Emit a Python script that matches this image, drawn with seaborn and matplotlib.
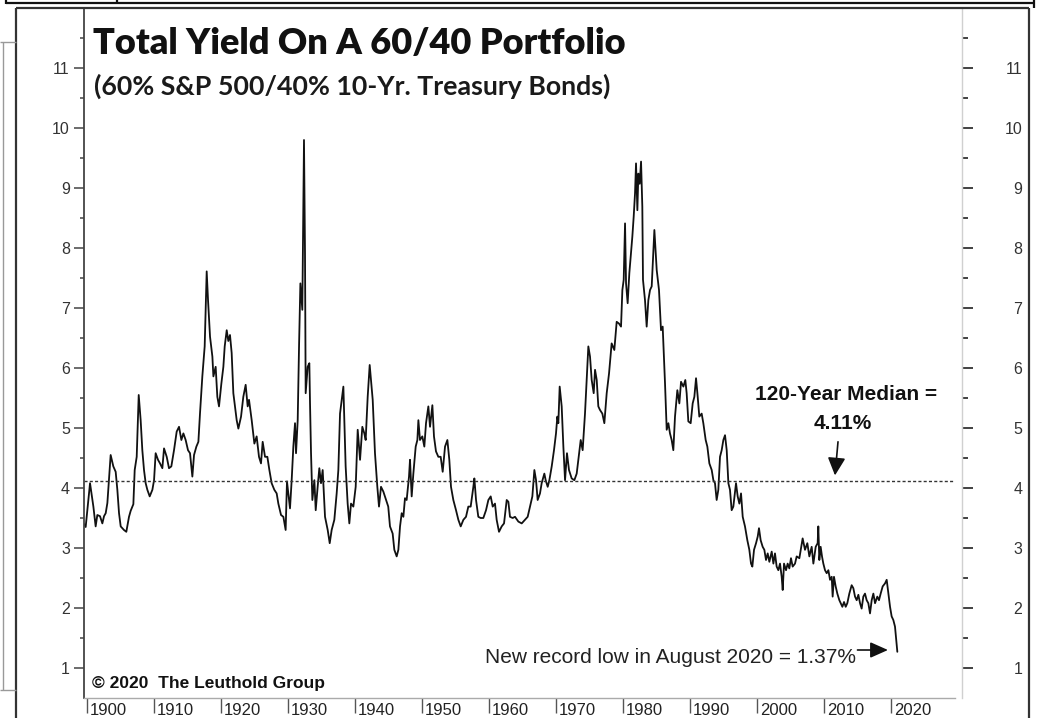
import matplotlib
matplotlib.use("Agg")
import matplotlib.pyplot as plt
from matplotlib.lines import Line2D
from matplotlib import transforms
import numpy as np
import pandas as pd
import seaborn as sns

# ---------------- data ----------------
years_1900s = [1899.55, 1899.80, 1900.45, 1900.95, 1901.29, 1901.54, 1901.94, 1902.29, 1902.54, 1902.79,
               1903.04, 1903.53, 1903.93, 1904.28, 1904.53, 1904.78, 1905.03, 1905.52, 1905.87, 1906.27,
               1906.52, 1906.92, 1907.12, 1907.42, 1907.72, 1908.01, 1908.26, 1908.51, 1908.76, 1909.01,
               1909.36, 1909.76, 1910.01, 1910.25, 1910.60, 1910.90, 1911.25, 1911.50, 1911.90, 1912.24,
               1912.59, 1912.99, 1913.39, 1913.74, 1914.09, 1914.39, 1914.73, 1915.08, 1915.38, 1915.73,
               1915.98, 1916.33, 1916.63, 1916.87, 1917.22, 1917.57, 1917.87, 1918.07, 1918.37, 1918.72,
               1918.87, 1919.21, 1919.46, 1919.71, 1920.06, 1920.36, 1920.56, 1920.86, 1921.10, 1921.35,
               1921.60, 1921.85]
yield_1900s = [3.40, 3.35, 4.08, 3.69, 3.36, 3.55, 3.53, 3.41, 3.53, 3.58,
               3.75, 4.55, 4.36, 4.27, 3.97, 3.58, 3.36, 3.30, 3.27, 3.52,
               3.62, 3.73, 4.30, 4.52, 5.55, 5.13, 4.63, 4.30, 4.08, 3.97,
               3.86, 3.97, 4.13, 4.58, 4.47, 4.41, 4.33, 4.66, 4.52, 4.33,
               4.36, 4.63, 4.94, 5.02, 4.80, 4.91, 4.80, 4.63, 4.58, 4.19,
               4.55, 4.69, 4.77, 5.24, 5.86, 6.36, 7.61, 7.13, 6.52, 6.19,
               5.86, 6.02, 5.52, 5.36, 5.74, 6.02, 6.36, 6.63, 6.45, 6.55,
               6.25, 5.58]

years_1920s = [1922.35, 1922.60, 1923.00, 1923.34, 1923.69, 1923.99, 1924.19, 1924.59, 1924.99, 1925.33,
               1925.68, 1925.98, 1926.23, 1926.58, 1926.93, 1927.23, 1927.57, 1927.97, 1928.32, 1928.57,
               1928.97, 1929.32, 1929.66, 1929.86, 1930.06, 1930.31, 1930.56, 1930.81, 1931.06, 1931.21,
               1931.46, 1931.66, 1931.86, 1932.15, 1932.40, 1932.55, 1932.65, 1932.95, 1933.20, 1933.30,
               1933.45, 1933.65, 1933.95, 1934.15, 1934.44, 1934.69, 1934.94, 1935.19, 1935.54, 1935.94,
               1936.24, 1936.53, 1936.93, 1937.28, 1937.53, 1937.78, 1938.03, 1938.28, 1938.62, 1938.92,
               1939.17, 1939.42, 1939.77, 1940.12, 1940.42, 1940.77, 1941.11, 1941.41, 1941.61, 1941.91,
               1942.21]
yield_1920s = [5.13, 4.99, 5.19, 5.52, 5.72, 5.36, 5.47, 5.13, 4.74, 4.86,
               4.52, 4.41, 4.77, 4.52, 4.52, 4.30, 4.08, 3.97, 3.91, 3.74,
               3.55, 3.52, 3.30, 4.11, 3.91, 3.66, 4.13, 4.69, 5.08, 4.58,
               5.13, 6.36, 7.41, 6.97, 9.80, 7.91, 5.58, 6.02, 6.08, 5.41,
               4.58, 3.80, 4.13, 3.63, 4.02, 4.33, 4.08, 4.30, 3.52, 3.30,
               3.08, 3.30, 3.47, 3.91, 4.30, 5.24, 5.47, 5.69, 4.36, 3.74,
               3.41, 3.74, 3.69, 4.02, 4.97, 4.47, 5.02, 4.91, 4.80, 5.52,
               6.05]

years_1940s = [1942.66, 1943.00, 1943.35, 1943.60, 1943.90, 1944.25, 1944.65, 1944.98, 1945.24, 1945.64,
               1945.89, 1946.24, 1946.49, 1946.74, 1946.99, 1947.24, 1947.48, 1947.73, 1948.08, 1948.23,
               1948.48, 1948.73, 1949.08, 1949.33, 1949.48, 1949.72, 1950.07, 1950.37, 1950.62, 1950.97,
               1951.22, 1951.57, 1951.81, 1952.11, 1952.46, 1952.81, 1953.11, 1953.46, 1953.81, 1954.10,
               1954.35, 1954.70, 1955.10, 1955.45, 1955.80, 1956.20, 1956.59, 1956.94, 1957.29, 1957.69,
               1957.84, 1958.09, 1958.43, 1958.78, 1959.18, 1959.58, 1959.93, 1960.28, 1960.58, 1960.92,
               1961.17, 1961.52, 1961.92, 1962.27, 1962.67, 1962.92, 1963.16, 1963.56, 1963.91]
yield_1940s = [5.47, 4.58, 4.02, 3.69, 4.02, 3.94, 3.80, 3.69, 3.36, 3.24,
               2.97, 2.86, 2.97, 3.36, 3.58, 3.52, 3.83, 3.80, 4.19, 4.47,
               3.86, 4.24, 4.69, 4.80, 5.13, 4.80, 4.86, 4.69, 5.08, 5.36,
               5.02, 5.38, 4.86, 4.61, 4.52, 4.52, 4.27, 4.69, 4.80, 4.47,
               4.02, 3.80, 3.63, 3.47, 3.36, 3.47, 3.52, 3.69, 3.69, 4.02,
               4.16, 3.80, 3.52, 3.50, 3.50, 3.63, 3.80, 3.86, 3.69, 3.74,
               3.47, 3.27, 3.36, 3.41, 3.80, 3.77, 3.52, 3.50, 3.52]

years_1960s = [1964.41, 1964.91, 1965.40, 1965.80, 1966.15, 1966.50, 1966.80, 1967.05, 1967.29, 1967.64,
               1967.89, 1968.29, 1968.49, 1968.79, 1969.04, 1969.39, 1969.73, 1970.03, 1970.23, 1970.38,
               1970.58, 1970.88, 1971.13, 1971.38, 1971.67, 1971.97, 1972.37, 1972.77, 1973.12, 1973.37,
               1973.72, 1974.01, 1974.36, 1974.61, 1974.86, 1975.11, 1975.36, 1975.66, 1975.86, 1976.11,
               1976.35, 1976.60, 1976.95, 1977.25, 1977.60, 1977.95, 1978.34, 1978.74, 1979.09, 1979.44,
               1979.74, 1979.94, 1980.14, 1980.34, 1980.49, 1980.73, 1980.98, 1981.23, 1981.43, 1981.63,
               1981.83, 1981.98, 1982.18, 1982.33, 1982.53, 1982.73, 1982.92, 1983.02, 1983.32, 1983.57,
               1983.82, 1984.07, 1984.32, 1984.72, 1985.07, 1985.41, 1985.71, 1985.96, 1986.21]
yield_1960s = [3.44, 3.41, 3.47, 3.52, 3.69, 3.86, 4.30, 4.13, 3.80, 3.91,
               4.08, 4.24, 4.13, 4.02, 4.13, 4.36, 4.63, 4.91, 5.19, 5.08,
               5.69, 5.36, 4.69, 4.13, 4.58, 4.30, 4.16, 4.13, 4.24, 4.47,
               4.80, 4.63, 5.24, 5.80, 6.36, 6.19, 5.80, 5.58, 5.97, 5.80,
               5.36, 5.30, 5.24, 5.08, 5.58, 5.91, 6.41, 6.30, 6.77, 6.74,
               6.69, 7.30, 7.47, 8.41, 7.41, 7.08, 7.58, 7.91, 8.19, 8.52,
               8.91, 9.41, 8.63, 9.24, 9.07, 9.44, 8.69, 7.47, 7.13, 6.69,
               7.13, 7.30, 7.36, 8.30, 7.63, 7.30, 6.63, 6.69, 6.02]

years_1980s = [1986.31, 1986.56, 1986.81, 1987.05, 1987.30, 1987.55, 1987.80, 1988.15, 1988.45, 1988.70,
               1989.05, 1989.34, 1989.54, 1989.79, 1990.14, 1990.44, 1990.69, 1990.94, 1991.19, 1991.43,
               1991.78, 1992.03, 1992.38, 1992.63, 1992.93, 1993.28, 1993.53, 1993.77, 1994.02, 1994.27,
               1994.52, 1994.77, 1995.02, 1995.27, 1995.52, 1995.77, 1996.01, 1996.26, 1996.51, 1996.91,
               1997.16, 1997.41, 1997.66, 1997.91, 1998.25, 1998.60, 1998.90, 1999.15, 1999.35, 1999.60,
               1999.90, 2000.15, 2000.34, 2000.59, 2000.89, 2001.14, 2001.39, 2001.64, 2001.89, 2002.24,
               2002.49, 2002.73, 2002.98, 2003.23, 2003.48, 2003.73, 2003.88, 2004.08, 2004.38, 2004.62,
               2004.87, 2005.12, 2005.37, 2005.72, 2005.97, 2006.37]
yield_1980s = [5.74, 4.97, 5.08, 4.91, 4.80, 4.63, 5.19, 5.63, 5.41, 5.77,
               5.69, 5.80, 5.58, 5.11, 5.08, 5.41, 5.52, 5.83, 5.52, 5.19,
               5.24, 5.08, 4.80, 4.69, 4.41, 4.30, 4.13, 4.08, 3.80, 3.97,
               4.52, 4.63, 4.80, 4.88, 4.63, 4.08, 3.97, 3.63, 3.69, 4.08,
               3.86, 3.74, 3.91, 3.52, 3.36, 3.13, 2.97, 2.74, 2.69, 2.97,
               3.08, 3.19, 3.33, 3.13, 3.02, 2.97, 2.80, 2.91, 2.77, 2.94,
               2.74, 2.91, 2.69, 2.63, 2.74, 2.52, 2.30, 2.74, 2.63, 2.74,
               2.66, 2.83, 2.69, 2.74, 2.86, 2.83]

years_2000s = [2006.86, 2007.21, 2007.56, 2007.86, 2008.21, 2008.46, 2008.81, 2009.10, 2009.20, 2009.35,
               2009.55, 2009.75, 2009.95, 2010.20, 2010.45, 2010.70, 2010.95, 2011.20, 2011.34, 2011.54,
               2011.79, 2012.04, 2012.34, 2012.54, 2012.79, 2013.04, 2013.29, 2013.53, 2013.83, 2014.18,
               2014.43, 2014.68, 2014.93, 2015.18, 2015.43, 2015.67, 2015.92, 2016.17, 2016.42, 2016.67,
               2016.92, 2017.17, 2017.42, 2017.67, 2018.01, 2018.26, 2018.51, 2018.81, 2019.16, 2019.41,
               2019.66, 2019.91, 2020.15, 2020.40, 2020.65, 2021.00]
yield_2000s = [3.16, 2.97, 3.08, 2.86, 3.02, 2.74, 3.02, 3.08, 3.36, 2.80,
               3.02, 2.86, 2.74, 2.63, 2.58, 2.63, 2.47, 2.52, 2.19, 2.52,
               2.36, 2.24, 2.13, 2.08, 2.02, 2.10, 2.02, 2.08, 2.24, 2.38,
               2.33, 2.19, 2.13, 2.22, 2.08, 1.99, 2.19, 2.24, 2.13, 2.08,
               1.91, 2.13, 2.24, 2.08, 2.19, 2.13, 2.24, 2.36, 2.41, 2.47,
               2.24, 2.02, 1.86, 1.80, 1.69, 1.27]

median_value = 4.11
decade_ticks = [1900, 1910, 1920, 1930, 1940, 1950, 1960, 1970, 1980, 1990, 2000, 2010, 2020]
decade_labels = [str(d) for d in decade_ticks]
y_ticks = [1, 2, 3, 4, 5, 6, 7, 8, 9, 10, 11]
y_labels = [str(v) for v in y_ticks]

title_text = "Total Yield On A 60/40 Portfolio"
subtitle_text = "(60% S&P 500/40% 10-Yr. Treasury Bonds)"
median_text = "120-Year Median ="
median_value_text = "4.11%"
record_text = "New record low in August 2020 = 1.37%"
credit_text = "\u00a9 2020  The Leuthold Group"

df = pd.DataFrame({
    "year": years_1900s + years_1920s + years_1940s + years_1960s + years_1980s + years_2000s,
    "yield": yield_1900s + yield_1920s + yield_1940s + yield_1960s + yield_1980s + yield_2000s,
})

# ---------------- figure ----------------
sns.set_theme(style="white")
plt.rcParams["font.family"] = ["Liberation Sans", "DejaVu Sans"]

W, H = 1049, 718
fig = plt.figure(figsize=(W / 100, H / 100), dpi=100)
fig.patch.set_facecolor("white")


def fx(px):
    return px / W


def fy(py):
    return 1 - py / H


L, R, T, B = 84, 955, 8, 698
R2 = 962
X_LEFT, X_RIGHT = 1899.55, 2029.61
Y_LOW, Y_HIGH = 0.5, 12.0

ax = fig.add_axes([fx(L), fy(B), (R - L) / W, (B - T) / H])
ax.set_facecolor("white")

sns.lineplot(data=df, x="year", y="yield", ax=ax, color="#111111", linewidth=1.3,
             estimator=None, sort=False, legend=False)
ax.axhline(median_value, color="#333333", linewidth=1.0, linestyle=(0, (2.2, 1.6)))

ax.set_xlim(X_LEFT, X_RIGHT)
ax.set_ylim(Y_LOW, Y_HIGH)
ax.set_xlabel("")
ax.set_ylabel("")

for s in ["top", "right"]:
    ax.spines[s].set_visible(False)
ax.spines["left"].set_color("#444444")
ax.spines["left"].set_linewidth(1.3)
ax.spines["bottom"].set_color("#aaaaaa")
ax.spines["bottom"].set_linewidth(1.0)

ax.set_yticks(y_ticks)
ax.set_yticklabels(y_labels)
ax.set_yticks(np.arange(1.5, 11.6, 1.0), minor=True)
ax.tick_params(axis="y", which="major", direction="out", length=7.2, width=1.1,
               color="#444444", labelsize=11.5, labelcolor="#333333", pad=3, left=True)
ax.tick_params(axis="y", which="minor", direction="out", length=3, width=1.1,
               color="#444444", left=True)

ax.set_xticks(decade_ticks)
ax.set_xticklabels(decade_labels)
ax.tick_params(axis="x", which="major", direction="out", length=11, width=1.0,
               color="#555555", labelsize=12, labelcolor="#222222", pad=-7.4, bottom=True)
offset = transforms.ScaledTranslation(3 / 100, 0, fig.dpi_scale_trans)
for lab in ax.get_xticklabels():
    lab.set_horizontalalignment("left")
    lab.set_transform(lab.get_transform() + offset)

# right-hand value axis
ax2 = fig.add_axes([fx(L), fy(B), (R2 - L) / W, (B - T) / H])
ax2.patch.set_visible(False)
ax2.set_ylim(Y_LOW, Y_HIGH)
ax2.set_xticks([])
for s in ["top", "left", "bottom"]:
    ax2.spines[s].set_visible(False)
ax2.spines["right"].set_color("#d0d0d0")
ax2.spines["right"].set_linewidth(1.0)
ax2.yaxis.tick_right()
ax2.set_yticks(y_ticks)
ax2.set_yticklabels(y_labels)
ax2.set_yticks(np.arange(1.5, 11.6, 1.0), minor=True)
ax2.tick_params(axis="y", which="major", direction="out", length=8, width=1.3,
                color="#333333", labelsize=11.5, labelcolor="#333333", pad=35.3,
                right=True, left=False)
ax2.tick_params(axis="y", which="minor", direction="out", length=4, width=1.3,
                color="#333333", right=True, left=False)
for lab in ax2.get_yticklabels():
    lab.set_horizontalalignment("right")

# ---------------- annotations ----------------
ax.text(2013.33, 5.55, median_text, ha="center", va="center", fontsize=15,
        fontweight="bold", color="#111111")
ax.text(2012.9, 5.08, median_value_text, ha="center", va="center", fontsize=15,
        fontweight="bold", color="#111111")
ax.annotate("", xy=(2011.69, 4.21), xytext=(2012.14, 4.77),
            arrowprops=dict(arrowstyle="-|>,head_length=0.9,head_width=0.45",
                            color="#111111", lw=1.2, shrinkA=0, shrinkB=0))

ax.text(2014.8, 1.083, record_text, ha="right", va="baseline", fontsize=15,
        color="#222222")
ax.annotate("", xy=(2019.6, 1.30), xytext=(2015.05, 1.30),
            arrowprops=dict(arrowstyle="-|>,head_length=0.9,head_width=0.4",
                            color="#111111", lw=1.2, shrinkA=0, shrinkB=0))

# titles and credit (figure level)
title = fig.text(fx(93), fy(54), title_text, ha="left", va="baseline", fontsize=26,
                 fontweight="heavy", color="#111111", family=["Lato", "DejaVu Sans"])
subtitle = fig.text(fx(94), fy(95), subtitle_text, ha="left", va="baseline", fontsize=17,
                    fontweight="bold", color="#1a1a1a", family=["Lato", "DejaVu Sans"])
credit = fig.text(fx(92), fy(688), credit_text, ha="left", va="baseline", fontsize=12.5,
                  fontweight="bold", color="#111111")

fig.canvas.draw()
for txt, target in [(title, 532), (subtitle, 518)]:
    w = txt.get_window_extent().width
    txt.set_fontsize(txt.get_fontsize() * target / w)

# ---------------- screenshot frame lines ----------------
def fline(x0, y0, x1, y1, color, lw):
    fig.add_artist(Line2D([fx(x0), fx(x1)], [fy(y0), fy(y1)], transform=fig.transFigure,
                          color=color, linewidth=lw, solid_capstyle="butt"))

fline(16, 8, 1029, 8, "#333333", 1.6)      # top frame
fline(16, 8, 16, 718, "#333333", 1.6)      # left frame
fline(1029, 8, 1029, 718, "#333333", 1.6)  # right frame
fline(6, 3, 1034, 3, "#111111", 1.6)       # cut-off strip at the top
fline(6, 0, 6, 4, "#111111", 1.6)
fline(117, 0, 117, 4, "#111111", 1.6)
fline(1034, 0, 1034, 8, "#111111", 1.6)
fline(3, 42, 3, 690, "#999999", 1.0)       # side panel
fline(0, 42, 16, 42, "#999999", 1.0)
fline(0, 690, 16, 690, "#999999", 1.0)

fig.savefig("out.png", dpi=100, facecolor="white")
